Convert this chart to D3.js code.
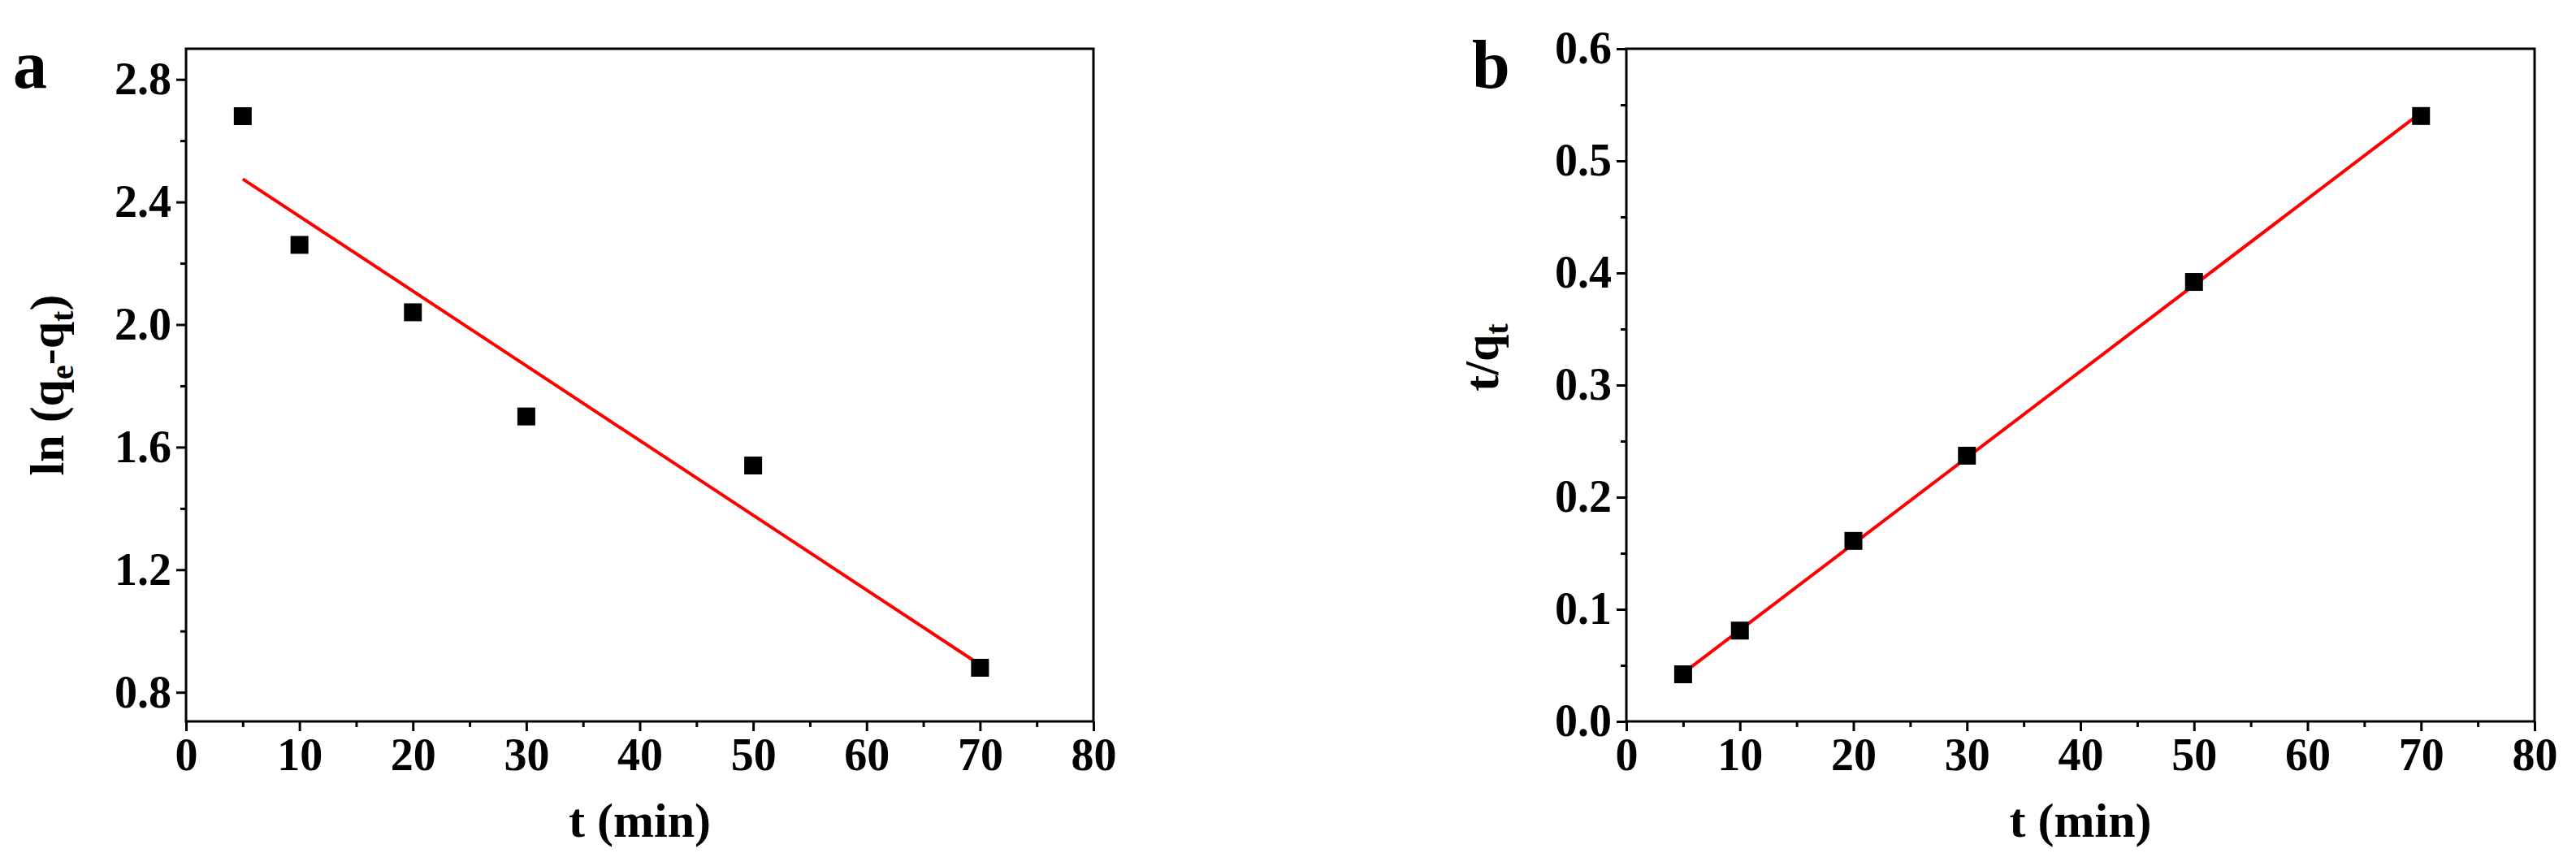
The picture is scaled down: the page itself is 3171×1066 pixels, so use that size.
<!DOCTYPE html>
<html><head><meta charset="utf-8">
<script src="https://cdn.jsdelivr.net/npm/d3@7"></script>
<style>body{margin:0;background:#fff}text{font-family:"Liberation Serif",serif;font-weight:bold}</style>
</head><body>
<svg width="3171" height="1066"></svg>
<script>
// panel a: pseudo-first-order
const tA = [5, 10, 20, 30, 50, 70];
const lnA = [2.68, 2.26, 2.04, 1.70, 1.54, 0.88];
const fitA = [[5, 2.475], [70, 0.89]];
const yTicksA = [0.8, 1.2, 1.6, 2.0, 2.4, 2.8];
// panel b: pseudo-second-order
const tB = [5, 10, 20, 30, 50, 70];
const tqB = [0.042, 0.081, 0.161, 0.237, 0.392, 0.540];
const fitB = [[5, 0.043], [70, 0.543]];
const yTicksB = [0.0, 0.1, 0.2, 0.3, 0.4, 0.5, 0.6];
const xTicks = [0, 10, 20, 30, 40, 50, 60, 70, 80];

const svg = d3.select("svg");

function panel(o) {
  const g = svg.append("g");
  const x = d3.scaleLinear().domain([0, 80]).range([o.left, o.right]);
  const y = d3.scaleLinear().domain(o.ydom).range([888, 60]);

  // frame
  g.append("rect").attr("x", o.left).attr("y", 60).attr("width", o.right - o.left).attr("height", 828)
    .attr("fill", "none").attr("stroke", "#000").attr("stroke-width", 3);

  g.append("g").attr("transform", "translate(0,888)")
    .call(d3.axisBottom(x).tickValues(xTicks).tickSize(12).tickPadding(8).tickFormat(d3.format("d")));
  g.append("g").attr("transform", "translate(0,888)")
    .call(d3.axisBottom(x).tickValues(d3.range(5, 80, 10)).tickSize(7).tickFormat(""));
  g.append("g").attr("transform", `translate(${o.left},0)`)
    .call(d3.axisLeft(y).tickValues(o.yticks).tickSize(12).tickPadding(6).tickFormat(d3.format(".1f")));
  g.append("g").attr("transform", `translate(${o.left},0)`)
    .call(d3.axisLeft(y).tickValues(o.minor).tickSize(7).tickFormat(""));
  g.selectAll(".domain").remove();
  g.selectAll(".tick line").attr("stroke-width", 3);
  g.selectAll(".tick text").attr("font-size", 56).attr("fill", "#000");

  g.append("path").attr("d", d3.line().x(d => x(d[0])).y(d => y(d[1]))(o.fit))
    .attr("stroke", "#f00").attr("stroke-width", 4).attr("fill", "none");

  g.selectAll(".pt").data(o.xs).enter().append("rect")
    .attr("x", d => x(d) - 11).attr("y", (d, i) => y(o.ys[i]) - 11)
    .attr("width", 22).attr("height", 22).attr("fill", "#000");

  g.append("text").attr("x", (o.left + o.right) / 2).attr("y", 1030).attr("text-anchor", "middle")
    .attr("font-size", 60).text("t (min)");
  g.append("text").attr("x", o.letterX).attr("y", 108).attr("font-size", 84).text(o.letter);
  return g;
}

const ga = panel({left: 229, right: 1346, ydom: [0.705, 2.9], yticks: yTicksA,
  minor: [1.0, 1.4, 1.8, 2.2, 2.6], fit: fitA, xs: tA, ys: lnA, letter: "a", letterX: 16});
ga.append("text").attr("transform", "translate(78,474) rotate(-90)").attr("text-anchor", "middle")
  .attr("font-size", 60)
  .call(t => {
    t.append("tspan").text("ln (q");
    t.append("tspan").attr("font-size", 40).attr("dy", 12).text("e");
    t.append("tspan").attr("dy", -12).text("-q");
    t.append("tspan").attr("font-size", 40).attr("dy", 12).text("t");
    t.append("tspan").attr("dy", -12).text(")");
  });

const gb = panel({left: 2002, right: 3120, ydom: [0, 0.6], yticks: yTicksB,
  minor: [0.05, 0.15, 0.25, 0.35, 0.45, 0.55], fit: fitB, xs: tB, ys: tqB, letter: "b", letterX: 1812});
gb.append("text").attr("transform", "translate(1844,440) rotate(-90)").attr("text-anchor", "middle")
  .attr("font-size", 60)
  .call(t => {
    t.append("tspan").text("t/q");
    t.append("tspan").attr("font-size", 40).attr("dy", 12).text("t");
  });
</script>
</body></html>
